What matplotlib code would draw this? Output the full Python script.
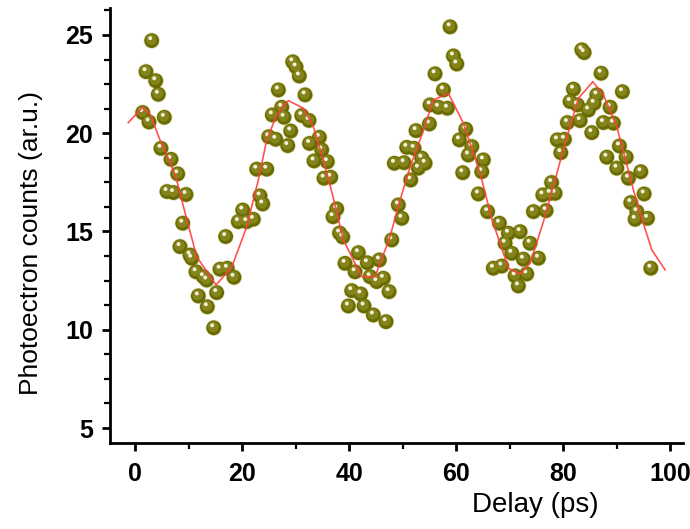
import matplotlib
matplotlib.use("Agg")
import matplotlib.pyplot as plt
from matplotlib.transforms import offset_copy
from matplotlib.ticker import MultipleLocator
import numpy as np

# measured data (delay in ps, photoelectron counts)
delay = [1.44, 2.06, 3.12, 3.87, 4.36, 2.62, 5.48, 4.86, 6.73, 7.98, 5.98, 7.20, 9.53, 8.92, 8.41,
         10.28, 10.60, 11.40, 12.77, 13.40, 15.27, 11.83, 13.51, 14.71, 15.89, 17.25, 18.50, 16.95,
         19.31, 20.88, 22.11, 20.13, 23.36, 23.87, 22.75, 24.62, 24.99, 26.30, 28.54, 29.10, 25.66,
         27.42, 27.85, 26.79, 29.48, 30.09, 30.71, 31.78, 31.16, 32.52, 32.62, 33.46, 34.45, 34.90,
         35.94, 35.33, 36.58, 37.70, 37.01, 38.22, 38.82, 41.74, 39.25, 41.12, 43.42, 45.66, 43.93,
         45.18, 46.41, 40.50, 42.19, 47.48, 39.87, 42.80, 44.54, 46.92, 47.98, 49.21, 49.85, 48.47,
         50.28, 50.79, 52.15, 51.53, 53.59, 54.21, 52.95, 52.52, 55.01, 55.14, 56.69, 58.37, 57.63,
         56.07, 59.50, 60.13, 58.88, 61.81, 60.62, 62.94, 62.30, 65.10, 64.80, 61.25, 64.17, 65.89,
         68.09, 69.78, 71.96, 69.16, 73.83, 70.41, 72.58, 75.38, 66.97, 68.54, 71.03, 73.21, 71.64,
         74.45, 76.82, 76.21, 77.57, 78.50, 77.85, 78.93, 80.24, 79.57, 80.80, 83.18, 81.31, 82.67,
         81.93, 83.50, 83.93, 87.10, 86.30, 85.79, 84.73, 85.36, 88.79, 87.53, 89.40, 91.08, 90.52,
         88.17, 91.78, 90.04, 92.21, 94.52, 95.14, 92.65, 93.78, 93.46, 95.76, 96.39]
counts = [21.05, 23.13, 24.71, 22.67, 21.98, 20.57, 20.81, 19.23, 18.67, 17.93, 17.03, 16.98, 16.88,
          15.42, 14.23, 13.80, 13.64, 12.95, 12.70, 12.53, 11.89, 11.72, 11.17, 10.10, 13.08, 13.13,
          12.67, 14.74, 15.50, 15.50, 15.62, 16.09, 16.81, 16.40, 18.17, 18.17, 19.82, 19.69, 19.37,
          20.11, 20.93, 21.32, 20.81, 22.20, 23.63, 23.37, 22.91, 21.95, 20.90, 20.65, 19.48, 18.59,
          19.79, 19.15, 18.55, 17.71, 17.76, 16.15, 15.75, 14.92, 14.72, 13.92, 13.38, 12.95, 13.41,
          13.55, 12.70, 12.45, 12.62, 11.99, 11.82, 11.94, 11.21, 11.21, 10.75, 10.41, 14.57, 16.35,
          15.67, 18.47, 18.50, 19.28, 19.23, 17.62, 18.73, 18.47, 18.22, 20.13, 20.47, 21.44, 21.32,
          21.27, 22.20, 23.02, 23.93, 23.52, 25.41, 20.20, 19.66, 19.32, 18.89, 18.64, 18.04, 17.99,
          16.91, 16.01, 15.42, 14.91, 14.99, 14.40, 14.40, 13.89, 13.59, 13.64, 13.13, 13.24, 12.74,
          12.84, 12.23, 16.01, 16.06, 16.86, 16.94, 16.94, 17.49, 19.66, 19.69, 19.01, 20.54, 20.64,
          21.61, 21.44, 22.24, 24.24, 24.10, 23.05, 21.95, 21.52, 21.18, 20.03, 21.32, 20.54, 20.51,
          22.11, 19.35, 18.78, 18.78, 18.22, 17.71, 18.04, 16.91, 16.47, 16.01, 15.62, 15.67, 13.13]

# fit curve
fit_delay = [-1.25, 1.44, 2.80, 4.67, 6.54, 7.79, 8.73, 11.53, 15.14, 18.07, 20.88, 22.11, 23.05,
             24.62, 26.49, 28.65, 31.46, 33.33, 35.20, 37.07, 38.93, 42.37, 44.86, 47.66, 49.53,
             51.40, 53.59, 55.76, 58.56, 61.36, 64.49, 66.73, 69.78, 71.96, 73.83, 76.32, 78.50,
             80.37, 82.86, 85.55, 87.53, 90.04, 93.14, 94.39, 96.58, 99.07]
fit_counts = [20.54, 21.32, 20.98, 19.66, 18.54, 17.62, 16.60, 13.72, 12.28, 13.18, 15.24, 16.60,
              17.62, 19.66, 20.93, 21.66, 21.27, 20.33, 18.64, 16.70, 14.57, 12.70, 12.70, 14.74,
              16.60, 18.28, 19.91, 21.69, 22.03, 20.51, 17.96, 15.59, 13.13, 12.84, 13.38, 15.50,
              17.62, 19.49, 21.78, 22.62, 21.95, 20.33, 17.11, 15.93, 14.06, 13.04]

x_ticks = [0, 20, 40, 60, 80, 100]
y_ticks = [5, 10, 15, 20, 25]

fig = plt.figure(figsize=(6.9, 5.29), dpi=100)
ax = fig.add_axes([110/690, 1-443/529, (683-110)/690, (443-8)/529])

# sphere-like markers
ax.scatter(delay, counts, s=135, color='#dcdca8', edgecolors='none', zorder=2)
ax.scatter(delay, counts, s=112, color='#6a6a04', edgecolors='none', zorder=3)
t_mid = offset_copy(ax.transData, fig=fig, x=-0.5, y=1.0, units='dots')
ax.scatter(delay, counts, s=60, color='#84841a', edgecolors='none', zorder=4, transform=t_mid)
t_hi = offset_copy(ax.transData, fig=fig, x=-1.5, y=2.5, units='dots')
ax.scatter(delay, counts, s=8, color='#f2f2dc', edgecolors='none', zorder=5, transform=t_hi)

ax.plot(fit_delay, fit_counts, color='#ff4040', lw=1.2, zorder=6, alpha=0.9)

ax.set_xlim(-4.67, 102.4)
ax.set_ylim(4.24, 26.37)

for s in ['top', 'right']:
    ax.spines[s].set_visible(False)
for s in ['left', 'bottom']:
    ax.spines[s].set_linewidth(2.0)

ax.set_xticks(x_ticks)
ax.set_yticks(y_ticks)
ax.xaxis.set_minor_locator(MultipleLocator(10))
ax.yaxis.set_minor_locator(MultipleLocator(1.25))
ax.tick_params(which='major', direction='out', length=6, width=2.0)
ax.tick_params(which='minor', direction='out', length=4, width=1.6)

fam = ['Liberation Sans', 'DejaVu Sans']
for lab in ax.get_xticklabels() + ax.get_yticklabels():
    lab.set_fontfamily(fam)
    lab.set_fontweight('bold')
    lab.set_fontsize(18)
ax.tick_params(axis='x', pad=8)
ax.tick_params(axis='y', pad=6)

ax.set_xlabel('Delay (ps)', fontsize=20, family=fam)
ax.xaxis.set_label_coords((535-110)/573, -(492-443)/435)
ax.set_ylabel('Photoectron counts (ar.u.)', fontsize=19, family=fam)
ax.yaxis.set_label_coords(-(110-43)/573, (443-243)/435)

fig.savefig('out.png', dpi=100)
